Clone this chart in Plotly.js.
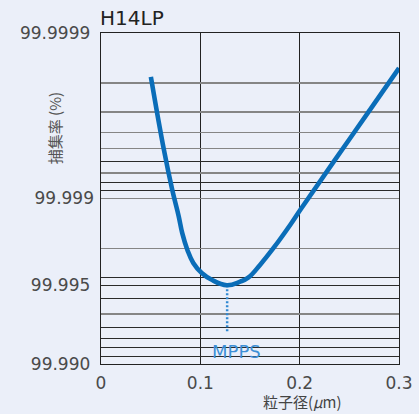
<!DOCTYPE html>
<html>
<head>
<meta charset="utf-8">
<script src="https://cdn.plot.ly/plotly-3.0.1.min.js"></script>
<style>
html,body{margin:0;padding:0;background:#ebeff9;}
#chart{width:419px;height:414px;}
</style>
</head>
<body>
<div id="chart"></div>
<script>
// Particle size (µm)
var particleSize = [0.0502, 0.0633, 0.0717, 0.0782, 0.0818, 0.0869, 0.0929, 0.1014, 0.1115, 0.1267, 0.1401, 0.1482, 0.1603, 0.1737, 0.1906, 0.2007, 0.2343, 0.2681, 0.3000];
// Penetration (%) = 100 - collection efficiency (%)
var penetrationPct = [0.000184, 0.000507, 0.000885, 0.00128, 0.00162, 0.00204, 0.00245, 0.00282, 0.00310, 0.00334, 0.00318, 0.00301, 0.00251, 0.00199, 0.00144, 0.00117, 0.000599, 0.000307, 0.000163];
// MPPS
var mppsSize = 0.127;
var mppsPen = 0.00334;
var mppsLineEndPen = 0.00647;
var mppsLabelPen = 0.00841;

// Y axis (penetration %, log scale, reversed) tick labels
var yTickPos = [0.0001, 0.001, 0.00335, 0.01];
var yTickLabels = ["99.9999", "99.999", "99.995", "99.990"];
var yDarkLines = [0.0006, 0.0008, 0.0009, 0.003, 0.00335, 0.004, 0.006, 0.007, 0.008, 0.009];
var yGrayLines = [0.0002, 0.0003, 0.0004, 0.0005, 0.0007, 0.001, 0.002, 0.005];
var xTickVals = [0, 0.1, 0.2, 0.3];
var xTickLabels = ["0", "0.1", "0.2", "0.3"];

function labelsFor(vals){
  return vals.map(function(v){
    var i = yTickPos.indexOf(v);
    return i >= 0 ? yTickLabels[i] : "";
  });
}
var darkVals = yDarkLines.concat([0.0001, 0.01]);
var grayVals = yGrayLines.slice();

var tickFont = {family: "DejaVu Sans", size: 17, color: "#4a4a4a"};

var traces = [
  {
    x: [mppsSize, mppsSize],
    y: [mppsPen, mppsLineEndPen],
    mode: "lines",
    line: {color: "#2f88d2", width: 2.5, dash: "2px,2px"},
    hoverinfo: "skip",
    showlegend: false
  },
  {
    x: particleSize,
    y: penetrationPct,
    mode: "lines",
    line: {color: "#0a6db8", width: 4.6, shape: "spline", smoothing: 1.2},
    showlegend: false
  },
  {x: [0.15], y: [0.001], yaxis: "y2", mode: "markers", marker: {opacity: 0}, hoverinfo: "skip", showlegend: false}
];

var layout = {
  width: 419, height: 414,
  margin: {l: 101, r: 20, t: 33, b: 50},
  paper_bgcolor: "#ebeff9",
  plot_bgcolor: "#ebeff9",
  title: {text: "H14LP", x: 100/419, xanchor: "left", y: 1 - 17.5/414, yanchor: "middle",
          font: {family: "DejaVu Sans", size: 20, color: "#222"}},
  xaxis: {
    range: [0, 0.3], tickmode: "array", tickvals: xTickVals, ticktext: xTickLabels,
    showgrid: true, gridcolor: "#222", gridwidth: 1,
    zeroline: false, showline: true, mirror: true, linecolor: "#222", linewidth: 1.3,
    ticks: "", ticklabelstandoff: 3, tickfont: tickFont
  },
  yaxis: {
    type: "log", range: [-2, -4], tickmode: "array",
    tickvals: darkVals, ticktext: labelsFor(darkVals),
    showgrid: true, gridcolor: "#2a2a2a", gridwidth: 1,
    zeroline: false, showline: true, mirror: true, linecolor: "#222", linewidth: 1.3,
    ticks: "", ticklabelstandoff: 6, tickfont: tickFont
  },
  yaxis2: {
    type: "log", range: [-2, -4], overlaying: "y", side: "left", anchor: "x",
    tickmode: "array", tickvals: grayVals, ticktext: labelsFor(grayVals),
    showgrid: true, gridcolor: "#858585", gridwidth: 1.5,
    zeroline: false, showline: false,
    ticks: "", ticklabelstandoff: 6, tickfont: tickFont
  },
  annotations: [
    {text: "MPPS", x: mppsSize, xref: "x", y: Math.log10(mppsLabelPen), yref: "y",
     showarrow: false, xanchor: "center", yanchor: "middle", xshift: 9,
     font: {family: "DejaVu Sans", size: 18, color: "#3d8fd6"}},
    {text: "捕集率 (%)", xref: "paper", yref: "paper", x: -0.1557, y: 0.711, textangle: -90,
     showarrow: false, xanchor: "center", yanchor: "middle",
     font: {family: "Noto Sans CJK JP", size: 15, color: "#555"}},
    {text: "粒子径(<i>μ</i>m)", xref: "paper", yref: "paper", x: 0.675, y: -0.149,
     showarrow: false, xanchor: "center", yanchor: "bottom", borderpad: 0,
     font: {family: "Noto Sans CJK JP", size: 15, color: "#444"}}
  ]
};

Plotly.newPlot("chart", traces, layout, {displayModeBar: false, staticPlot: true});
</script>
</body>
</html>
